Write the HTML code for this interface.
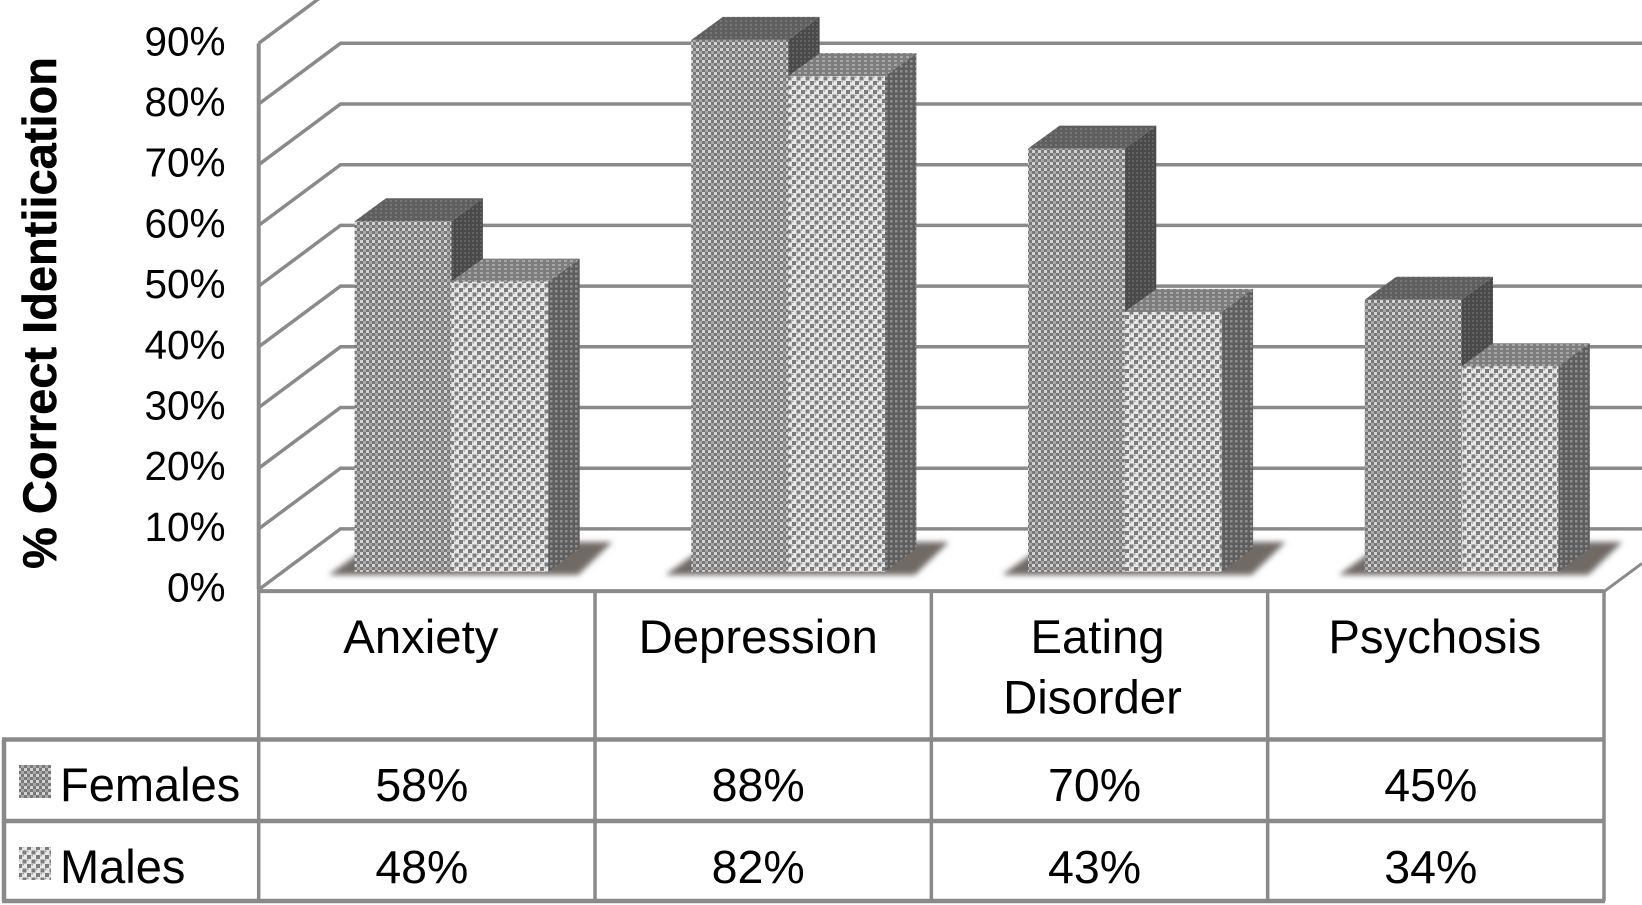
<!DOCTYPE html>
<html lang="en">
<head>
<meta charset="utf-8">
<title>% Correct Identification by Disorder and Sex</title>
<style>
  html, body { margin: 0; padding: 0; background: #fff; }
  body { width: 1642px; height: 905px; overflow: hidden; }
  svg { display: block; font-family: "Liberation Sans", Arial, sans-serif; }
</style>
</head>
<body>
<svg id="chart" width="1642" height="905" viewBox="0 0 1642 905" xmlns="http://www.w3.org/2000/svg">
  <defs>
    <pattern id="femaleFront" width="6" height="6" patternUnits="userSpaceOnUse">
      <rect width="6" height="6" fill="#787878"/>
      <rect x="0" y="0" width="3" height="3" fill="#d4d4d4"/>
      <rect x="3" y="3" width="3" height="3" fill="#a8a8a8"/>
    </pattern>
    <pattern id="maleFront" width="9" height="9" patternUnits="userSpaceOnUse">
      <rect width="9" height="9" fill="#e8e8e8"/>
      <rect x="0" y="0" width="4" height="4" fill="#7c7c7c"/>
      <rect x="4.5" y="4.5" width="4" height="4" fill="#7c7c7c"/>
      <rect x="4.5" y="0" width="1.5" height="1.5" fill="#a0a0a0"/>
      <rect x="0" y="4.5" width="1.5" height="1.5" fill="#a0a0a0"/>
    </pattern>
    <pattern id="femaleTop" width="5" height="4" patternUnits="userSpaceOnUse">
      <rect width="5" height="4" fill="#5f5f5f"/>
      <rect x="0" y="0" width="2" height="2" fill="#767676"/>
    </pattern>
    <pattern id="femaleSide" width="4" height="4" patternUnits="userSpaceOnUse">
      <rect width="4" height="4" fill="#4a4a4a"/>
      <rect x="0" y="0" width="2" height="2" fill="#626262"/>
    </pattern>
    <pattern id="maleTop" width="6" height="4" patternUnits="userSpaceOnUse">
      <rect width="6" height="4" fill="#7d7d7d"/>
      <rect x="0" y="0" width="3" height="2" fill="#a6a6a6"/>
    </pattern>
    <pattern id="maleSide" width="5" height="5" patternUnits="userSpaceOnUse">
      <rect width="5" height="5" fill="#5e5e5e"/>
      <rect x="0" y="0" width="2.5" height="2.5" fill="#8e8e8e"/>
    </pattern>
    <filter id="shadowBlur" x="-10%" y="-30%" width="120%" height="160%">
      <feGaussianBlur stdDeviation="3"/>
    </filter>
  </defs>
  <g id="walls"></g>
  <g id="shadows"></g>
  <g id="bars"></g>
  <g id="axisLabels"></g>
  <text transform="translate(56 313) rotate(-90)" text-anchor="middle" font-size="47" font-weight="700" fill="#000" stroke="#000" stroke-width="0.5">% Correct Identiication</text>
  <g id="dataTable"></g>
</svg>
<script>
var categories = ["Anxiety", "Depression", "Eating\nDisorder", "Psychosis"];
var females = [58, 88, 70, 45];
var males = [48, 82, 43, 34];
var yTicks = [0, 10, 20, 30, 40, 50, 60, 70, 80, 90];
var seriesNames = ["Females", "Males"];

var NS = "http://www.w3.org/2000/svg";
var GRID = "#8a8a8a";
var LABEL_NUDGE = { Anxiety: -1, Depression: 0, Eating: 3, Disorder: -2, Psychosis: 4 };

function makeEl(parent, tag, attrs, name, text) {
  var el = document.createElementNS(NS, tag);
  for (var k in attrs) { el.setAttribute(k, attrs[k]); }
  
  
  if (text !== undefined) { el.textContent = text; }
  parent.appendChild(el);
  return el;
}
function pts(list) { return list.map(function (p) { return p[0] + "," + p[1]; }).join(" "); }

/* axis functions */
var FRONT_X = 258.7, BACK_DX = 81.8, BACK_DY = 60.7, RIGHT_X = 1604;
function wallY(v) { return 589.6 - v * 6.07; }           /* front edge of the floor/wall */
function barY(v) { return 571.8 - v * 6.045; }           /* bar value position */
function colX(i) { return FRONT_X + i * (RIGHT_X - FRONT_X) / categories.length; }
function barX(i, s) { return 354.6 + i * 336.7 + s * 96.8; }
var BAR_W = 96.8, DEPTH_X = 31.5, DEPTH_Y = 23;

/* walls and ticks */
var walls = document.getElementById("walls");
var axisLabels = document.getElementById("axisLabels");
yTicks.forEach(function (t) {
  var y = wallY(t);
  makeEl(walls, "polyline", {
    points: pts([[FRONT_X, y], [FRONT_X + BACK_DX, y - BACK_DY], [1642, y - BACK_DY]]),
    fill: "none", stroke: GRID, "stroke-width": 3.5
  }, "gridline-" + t);
  makeEl(axisLabels, "text", {
    x: 225.5, y: y + 12, "text-anchor": "end", "font-size": 40.5, fill: "#000"
  }, "y-tick-" + t, t + "%");
});
makeEl(walls, "line", { x1: FRONT_X, y1: wallY(90), x2: FRONT_X, y2: wallY(0), stroke: GRID, "stroke-width": 4 }, "y-axis-line");
makeEl(walls, "line", {
  x1: RIGHT_X, y1: wallY(0) + 2, x2: 1642, y2: wallY(0) + 2 - (1642 - RIGHT_X) * BACK_DY / BACK_DX,
  stroke: GRID, "stroke-width": 3
}, "floor-right-edge");

/* bars */
var shadows = document.getElementById("shadows");
var bars = document.getElementById("bars");
function drawBar(i, s, v, front, top, side, label) {
  var x = barX(i, s), y = barY(v), b = barY(0);
  var g = makeEl(bars, "g", {}, "bar-" + label);
  makeEl(g, "polygon", {
    points: pts([[x, y], [x + BAR_W, y], [x + BAR_W + DEPTH_X, y - DEPTH_Y], [x + DEPTH_X, y - DEPTH_Y]]),
    fill: "url(#" + top + ")"
  }, "bar-top-" + label);
  makeEl(g, "polygon", {
    points: pts([[x + BAR_W, y], [x + BAR_W + DEPTH_X, y - DEPTH_Y], [x + BAR_W + DEPTH_X, b - DEPTH_Y], [x + BAR_W, b]]),
    fill: "url(#" + side + ")"
  }, "bar-side-" + label);
  makeEl(g, "rect", { x: x, y: y, width: BAR_W, height: b - y, fill: "url(#" + front + ")" }, "bar-front-" + label);
}
categories.forEach(function (c, i) {
  var slug = c.split("\n")[0].toLowerCase();
  var x0 = barX(i, 0);
  makeEl(shadows, "polygon", {
    points: pts([[x0 - 26, 575], [x0 + 2 * BAR_W + 30, 575], [x0 + 2 * BAR_W + 64, 542], [x0 + 20, 542]]),
    fill: "#6f6a66", filter: "url(#shadowBlur)"
  }, "bar-shadow-" + slug);
  drawBar(i, 0, females[i], "femaleFront", "femaleTop", "femaleSide", "females-" + slug);
  drawBar(i, 1, males[i], "maleFront", "maleTop", "maleSide", "males-" + slug);
});

/* data table */
var table = document.getElementById("dataTable");
var ROW_TOP = 739.5, ROW_1 = 821, ROW_2 = 901, LEFT_X = 4;
var TABLE_LINE_W = 4.5;
makeEl(table, "line", { x1: FRONT_X, y1: wallY(0) + 1.5, x2: RIGHT_X, y2: wallY(0) + 1.5, stroke: GRID, "stroke-width": 4 }, "x-axis-line");
for (var c = 0; c <= categories.length; c++) {
  makeEl(table, "line", { x1: colX(c), y1: wallY(0), x2: colX(c), y2: ROW_2, stroke: GRID, "stroke-width": 3.5 }, "table-column-line-" + c);
}
[ROW_TOP, ROW_1, ROW_2].forEach(function (y, r) {
  makeEl(table, "line", { x1: LEFT_X - 2, y1: y, x2: RIGHT_X + 1, y2: y, stroke: GRID, "stroke-width": TABLE_LINE_W }, "table-row-line-" + r);
});
makeEl(table, "line", { x1: LEFT_X, y1: ROW_TOP, x2: LEFT_X, y2: ROW_2, stroke: GRID, "stroke-width": TABLE_LINE_W }, "table-left-line");

categories.forEach(function (c, i) {
  var cx = (colX(i) + colX(i + 1)) / 2 - 5;
  c.split("\n").forEach(function (line, n) {
    makeEl(table, "text", {
      x: cx + LABEL_NUDGE[line], y: 653 + n * 60.5, "text-anchor": "middle", "font-size": 47.3, fill: "#000"
    }, "category-label-" + line.toLowerCase(), line);
  });
  makeEl(table, "text", { x: cx, y: 801, "text-anchor": "middle", "font-size": 46.5, fill: "#000" }, "females-value-" + i, females[i] + "%");
  makeEl(table, "text", { x: cx, y: 883, "text-anchor": "middle", "font-size": 46.5, fill: "#000" }, "males-value-" + i, males[i] + "%");
});

seriesNames.forEach(function (n, r) {
  var baseline = r === 0 ? 801 : 883;
  makeEl(table, "rect", {
    x: 19, y: baseline - 36, width: 32, height: 33,
    fill: r === 0 ? "url(#femaleFront)" : "url(#maleFront)"
  }, "legend-swatch-" + n.toLowerCase());
  makeEl(table, "text", { x: 60, y: baseline, "font-size": 47, fill: "#000" }, "legend-label-" + n.toLowerCase(), n);
});
</script>
</body>
</html>
